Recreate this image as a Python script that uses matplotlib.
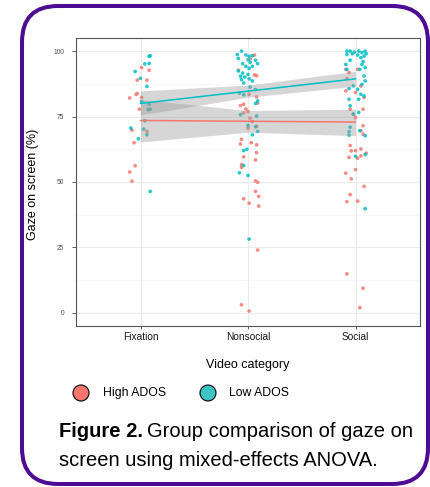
#!/usr/bin/env python3
"""Gaze on screen por categoría de vídeo, grupos High / Low ADOS (estilo ggplot theme_bw)."""
import numpy as np
import matplotlib

matplotlib.use("Agg")
import matplotlib.pyplot as plt
from matplotlib.patches import FancyBboxPatch, Circle

plt.rcParams["font.family"] = ["Liberation Sans", "DejaVu Sans"]

categories = ["Fixation", "Nonsocial", "Social"]
groups = ["High ADOS", "Low ADOS"]

# puntos (valor leído + desplazamiento de jitter leído), por categoría
high_fix_val = [93.7, 92.7, 88.9, 88.9, 83.8, 83.5, 82.1, 82.3, 77.8, 69.8, 69.3, 65.0, 56.2, 53.8, 50.3]
high_fix_jit = [0.01, 0.08, -0.03, 0.06, -0.03, -0.04, -0.10, 0.01, -0.01, -0.08, 0.06, -0.06, -0.05, -0.10, -0.08]
low_fix_val = [98.2, 98.0, 95.3, 95.1, 92.2, 89.6, 86.5, 80.7, 79.7, 77.8, 77.6, 73.4, 70.6, 70.2, 68.0, 66.5, 46.4]
low_fix_jit = [0.09, 0.08, 0.08, 0.04, -0.05, 0.0, 0.06, 0.01, 0.08, 0.09, 0.07, 0.04, -0.09, 0.03, 0.06, -0.02, 0.09]

high_non_val = [98.5, 97.0, 92.7, 90.9, 90.6, 83.5, 82.5, 80.2, 79.2, 79.7, 77.9, 76.9, 76.4, 74.4, 73.1,
                71.3, 70.6, 66.3, 64.5, 65.0, 64.2, 61.2, 59.6, 58.4, 56.6, 55.6, 50.4, 49.9, 46.4, 43.6,
                44.5, 41.9, 40.8, 24.0, 3.1, 0.7]
high_non_jit = [0.06, 0.02, -0.09, 0.06, 0.08, 0.01, 0.08, 0.09, -0.07, -0.04, -0.02, 0.0, -0.04, 0.02, 0.04,
                0.08, 0.0, -0.06, -0.07, 0.03, 0.08, 0.08, -0.04, 0.07, -0.06, -0.06, 0.07, 0.09, 0.07, -0.04,
                0.10, 0.01, 0.10, 0.09, -0.06, 0.01]
low_non_val = [100.0, 98.7, 98.5, 98.0, 98.2, 97.2, 96.7, 96.5, 95.7, 95.2, 95.2, 94.2, 94.2, 93.4, 92.4,
               91.6, 91.1, 90.4, 90.1, 89.4, 89.1, 88.6, 87.8, 86.3, 85.3, 84.0, 83.3, 81.0, 80.0, 75.7,
               75.2, 71.6, 71.1, 69.3, 68.0, 62.5, 62.0, 56.3, 53.5, 52.5, 28.2]
low_non_jit = [-0.06, -0.10, -0.02, 0.01, 0.04, -0.09, 0.0, 0.07, 0.02, -0.05, 0.09, -0.02, 0.04, 0.01, -0.09,
               -0.05, 0.0, -0.07, -0.03, 0.01, -0.06, 0.04, -0.04, 0.02, 0.07, -0.08, -0.04, 0.09, 0.07, -0.07,
               0.08, 0.0, 0.07, 0.09, 0.04, -0.01, -0.04, -0.04, -0.08, 0.0, 0.01]

high_soc_val = [93.0, 91.8, 93.0, 89.5, 86.7, 84.8, 84.2, 82.3, 77.8, 77.8, 75.9, 74.6, 71.5, 69.6, 68.3,
                63.9, 62.0, 60.0, 61.9, 62.6, 59.4, 59.1, 61.0, 53.4, 54.7, 51.2, 48.3, 45.2, 42.5, 42.7,
                14.9, 9.4, 2.0]
high_soc_jit = [-0.09, -0.06, 0.02, -0.08, 0.05, -0.09, 0.0, 0.08, 0.07, -0.05, -0.02, 0.0, 0.07, 0.05, 0.07,
                -0.05, 0.0, 0.05, -0.04, 0.05, -0.06, 0.02, 0.10, -0.09, 0.0, -0.04, 0.08, -0.05, -0.08, 0.02,
                -0.08, 0.07, 0.04]
low_soc_val = [100.0, 100.0, 99.6, 100.0, 99.4, 100.0, 98.1, 97.5, 98.7, 94.9, 93.0, 94.9, 93.7, 93.0, 90.5,
               88.6, 87.3, 86.7, 85.7, 85.4, 83.5, 82.9, 81.6, 81.6, 79.1, 75.9, 76.6, 70.9, 69.6, 67.7,
               69.2, 67.9, 59.8, 60.5, 39.8, 99.0, 98.5, 96.0, 96.5, 99.0]
low_soc_jit = [-0.08, -0.05, -0.01, 0.03, 0.06, 0.09, 0.08, 0.05, -0.08, -0.09, -0.08, 0.06, 0.09, 0.04, 0.08,
               0.09, 0.06, -0.02, -0.06, 0.02, 0.05, 0.08, -0.06, 0.03, -0.05, -0.02, 0.03, -0.05, 0.04, 0.09,
               -0.06, -0.06, 0.0, 0.09, 0.09, -0.03, 0.02, 0.07, -0.05, 0.10]

fit_x = [1, 2, 3]
high_fit = [73.5, 73.2, 72.9]
high_lo = [65.3, 69.0, 67.7]
high_hi = [81.5, 77.3, 77.8]
low_fit = [80.0, 84.7, 89.4]
low_lo = [75.6, 82.4, 86.6]
low_hi = [84.8, 87.0, 92.3]

RED = "#F8766D"
TEAL = "#00BFC4"
W, H = 430, 487


def main():
    fig = plt.figure(figsize=(W / 100, H / 100), dpi=100)

    # capa de fondo en píxeles: marco, etiquetas, leyenda, pie
    bg = fig.add_axes([0, 0, 1, 1], zorder=0)
    bg.set_xlim(0, W)
    bg.set_ylim(H, 0)
    bg.axis("off")
    bg.add_patch(FancyBboxPatch((22, 6), 406, 478, boxstyle="round,pad=0,rounding_size=36",
                                fill=False, ec="#4e0c94", lw=2.9))

    ax = fig.add_axes([76 / W, 1 - 326 / H, 344 / W, 288 / H], zorder=1)
    ax.set_facecolor("white")

    pts = [
        (1, high_fix_val, high_fix_jit, RED), (2, high_non_val, high_non_jit, RED), (3, high_soc_val, high_soc_jit, RED),
        (1, low_fix_val, low_fix_jit, TEAL), (2, low_non_val, low_non_jit, TEAL), (3, low_soc_val, low_soc_jit, TEAL),
    ]
    for cat, vals, jit, col in pts:
        ax.scatter(cat + np.array(jit), vals, s=7, c=col, alpha=0.85, edgecolors="none", zorder=2)

    for lo, hi in [(high_lo, high_hi), (low_lo, low_hi)]:
        ax.fill_between(fit_x, lo, hi, color="#999999", alpha=0.4, lw=0, zorder=3)
    ax.plot(fit_x, high_fit, color=RED, lw=1.1, zorder=4)
    ax.plot(fit_x, low_fit, color=TEAL, lw=1.1, zorder=4)

    ax.set_xlim(0.4, 3.6)
    ax.set_ylim(-5, 105)
    ax.set_xticks([1, 2, 3])
    ax.set_xticklabels(categories)
    ax.set_yticks([0, 25, 50, 75, 100])
    ax.set_yticks([12.5, 37.5, 62.5, 87.5], minor=True)
    ax.grid(True, which="major", color="#ebebeb", lw=0.8, zorder=0)
    ax.grid(True, which="minor", axis="y", color="#f4f4f4", lw=0.5, zorder=0)
    ax.set_axisbelow(True)
    ax.tick_params(axis="x", labelsize=7.3, length=2.5, width=0.6, color="#444444", pad=2, labelcolor="#1a1a1a")
    ax.tick_params(axis="y", labelsize=4.8, length=3, width=0.6, color="#444444", pad=5.5, labelcolor="#4d4d4d")
    ax.tick_params(axis="y", which="minor", length=0)
    for s in ax.spines.values():
        s.set_color("#555555")
        s.set_linewidth(0.8)

    bg.text(33, 184, "Gaze on screen (%)", rotation=90, ha="center", va="center", fontsize=9)
    bg.text(248, 365, "Video category", ha="center", va="center", fontsize=9)

    # leyenda
    for (cx, tx), g, col in zip([(81, 103), (208, 229)], groups, [RED, "#3fc4c6"]):
        bg.add_patch(Circle((cx, 393), 8, fc=col, ec="black", lw=0.8))
        bg.text(tx, 393, g, ha="left", va="center", fontsize=8.8)

    # pie de figura
    t1 = bg.text(59, 437, "Figure 2.", fontsize=14.5, fontweight="bold", va="baseline", ha="left")
    fig.canvas.draw()
    ext = t1.get_window_extent()
    x2 = ext.x1 + 4
    bg.text(x2, 437, "Group comparison of gaze on", fontsize=14.5, va="baseline", ha="left")
    bg.text(59, 466.5, "screen using mixed-effects ANOVA.", fontsize=14.5, va="baseline", ha="left")

    fig.savefig("out.png", dpi=100)
    plt.close(fig)


if __name__ == "__main__":
    main()
